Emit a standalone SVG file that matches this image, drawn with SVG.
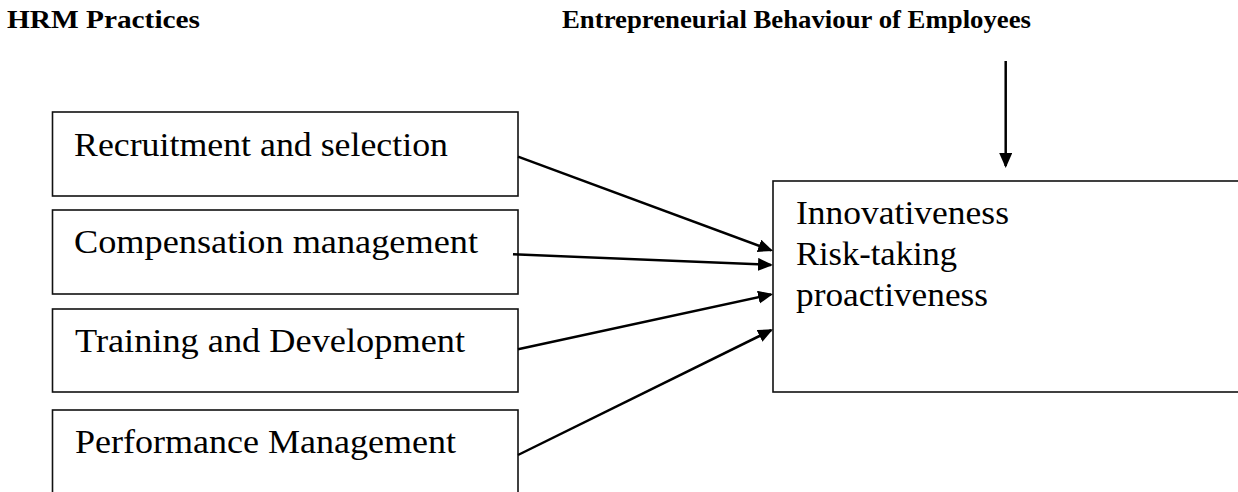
<svg xmlns="http://www.w3.org/2000/svg" width="1238" height="492" viewBox="0 0 1238 492">
  <style>
    .box { fill: #ffffff; stroke: #111111; stroke-width: 1.6; }
    .label { font-family: "Liberation Serif", "Times New Roman", serif; font-size: 34px; fill: #000000; }
    .head { font-family: "Liberation Serif", "Times New Roman", serif; font-size: 25px; font-weight: bold; fill: #000000; }
    .link { fill: none; stroke: #000000; stroke-width: 2.5; marker-end: url(#arrow); }
  </style>
  <defs>
    <marker id="arrow" markerUnits="userSpaceOnUse" markerWidth="16" markerHeight="14" refX="13" refY="6.5" orient="auto">
      <path d="M0,0 L15,6.5 L0,13 Z" fill="#000000"/>
    </marker>
  </defs>

  <rect width="1238" height="492" fill="#ffffff"/>

  <!-- column headings -->
  <g id="heading-hrm">
    <text class="head" x="7" y="28" textLength="193" lengthAdjust="spacingAndGlyphs">HRM Practices</text>
  </g>
  <g id="heading-behaviour">
    <text class="head" x="562" y="28" textLength="469" lengthAdjust="spacingAndGlyphs">Entrepreneurial Behaviour of Employees</text>
  </g>

  <!-- HRM practice boxes -->
  <g id="recruitment">
    <rect class="box" x="52.5" y="112" width="465.5" height="84"/>
    <text class="label" x="74" y="156" textLength="374" lengthAdjust="spacingAndGlyphs">Recruitment and selection</text>
  </g>
  <g id="compensation">
    <rect class="box" x="52.5" y="210" width="465.5" height="84"/>
    <text class="label" x="74" y="253" textLength="404" lengthAdjust="spacingAndGlyphs">Compensation management</text>
  </g>
  <g id="training">
    <rect class="box" x="52.5" y="309" width="465.5" height="83"/>
    <text class="label" x="75" y="352" textLength="390" lengthAdjust="spacingAndGlyphs">Training and Development</text>
  </g>
  <g id="performance">
    <rect class="box" x="52.5" y="410" width="465.5" height="100"/>
    <text class="label" x="75" y="453" textLength="381" lengthAdjust="spacingAndGlyphs">Performance Management</text>
  </g>

  <!-- entrepreneurial behaviour box (runs off the right edge) -->
  <g id="behaviour">
    <rect class="box" x="773" y="181" width="480" height="211"/>
    <text class="label" x="796" y="224" textLength="213" lengthAdjust="spacingAndGlyphs">Innovativeness</text>
    <text class="label" x="796" y="265" textLength="161" lengthAdjust="spacingAndGlyphs">Risk-taking</text>
    <text class="label" x="796" y="306" textLength="192" lengthAdjust="spacingAndGlyphs">proactiveness</text>
  </g>

  <!-- connectors -->
  <g id="connectors">
    <path class="link" d="M518,156.7 L771.2,250.3"/>
    <path class="link" d="M513,254.3 L771,264.9"/>
    <path class="link" d="M518,349.3 L771.1,294.4"/>
    <path class="link" d="M518,455 L771.2,330.2"/>
    <path class="link" d="M1005.7,61 L1005.7,166"/>
  </g>
</svg>
